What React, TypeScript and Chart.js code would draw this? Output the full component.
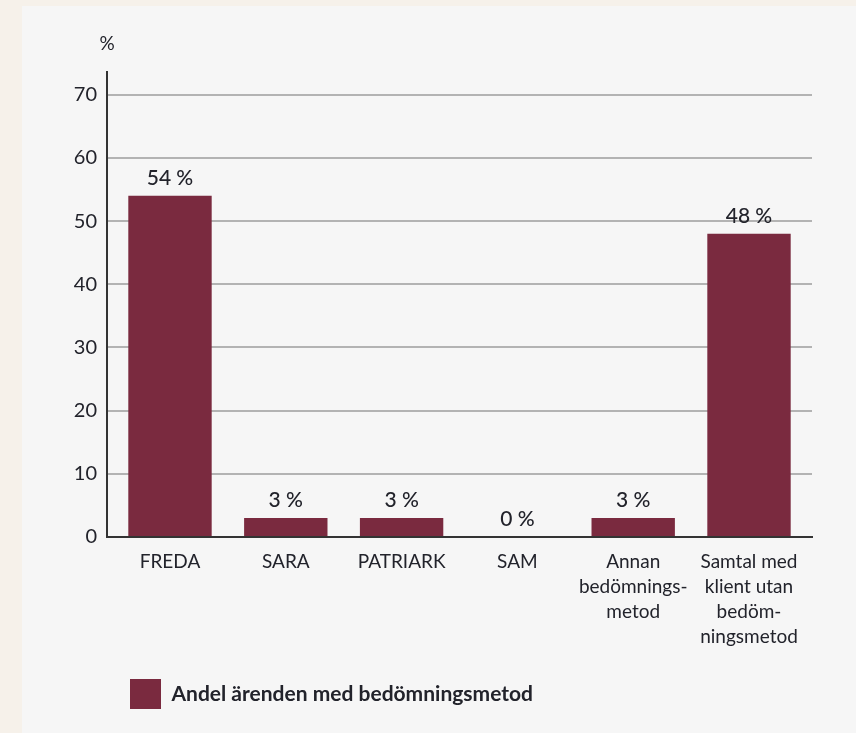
import React, { useEffect, useRef } from "react";
import { Chart, registerables } from "chart.js";
Chart.register(...registerables);

const categories: string[][] = [
  ["FREDA"],
  ["SARA"],
  ["PATRIARK"],
  ["SAM"],
  ["Annan", "bedömnings-", "metod"],
  ["Samtal med", "klient utan", "bedöm-", "ningsmetod"],
];
const values: number[] = [54, 3, 3, 0, 3, 48];
const seriesLabel = "Andel ärenden med bedömningsmetod";
const yTicks: number[] = [0, 10, 20, 30, 40, 50, 60, 70];
const yMax = 73.6;
const unitLabel = "%";

const FONT = "Lato, 'Noto Sans', sans-serif";
const TEXT = "#22232b";
const BAR = "#7a2a3f";

export default function App() {
  const ref = useRef<HTMLCanvasElement | null>(null);

  useEffect(() => {
    document.body.style.margin = "0";
    const canvas = ref.current;
    if (!canvas) return;

    const overlay = {
      id: "overlay",
      afterLayout(chart: any) {
        const lg = chart.legend;
        if (lg) {
          lg.left += 98;
          lg.right += 98;
        }
      },
      afterDatasetsDraw(chart: any) {
        const ctx = chart.ctx;
        const meta = chart.getDatasetMeta(0);
        ctx.save();
        ctx.font = `500 21px ${FONT}`;
        ctx.fillStyle = TEXT;
        ctx.textAlign = "center";
        ctx.textBaseline = "middle";
        meta.data.forEach((bar: any, i: number) => {
          ctx.fillText(`${values[i]} %`, bar.x, bar.y - 18);
        });
        ctx.font = `19px ${FONT}`;
        ctx.fillText(unitLabel, chart.chartArea.left, 38);
        ctx.restore();
      },
    };

    const points = values.map((v, i) => ({ x: i, y: v }));

    const chart = new Chart(canvas, {
      type: "bar",
      data: {
        datasets: [
          {
            label: seriesLabel,
            data: points,
            backgroundColor: BAR,
            borderWidth: 0,
            barPercentage: 0.72,
            categoryPercentage: 1,
          },
        ],
      },
      options: {
        responsive: false,
        animation: false,
        layout: { padding: { top: 66, right: 44, bottom: 14, left: 0 } },
        plugins: {
          tooltip: { enabled: false },
          legend: {
            position: "bottom",
            align: "start",
            labels: {
              boxWidth: 31,
              boxHeight: 30,
              padding: 10,
              color: TEXT,
              font: { family: FONT, size: 21, weight: "bold" },
            },
          },
        },
        scales: {
          x: {
            type: "linear",
            offset: false,
            min: -0.544,
            max: categories.length - 1 + 0.544,
            afterBuildTicks: (s: any) => {
              s.ticks = categories.map((_, i) => ({ value: i }));
            },
            grid: { display: false, drawTicks: false, offset: false },
            border: { color: "#333333", width: 2 },
            ticks: {
              padding: 12,
              color: TEXT,
              maxRotation: 0,
              autoSkip: false,
              callback: (v: any) => categories[Math.round(Number(v))],
              font: { family: FONT, size: 19, lineHeight: "25px" },
            },
            afterFit: (s: any) => {
              s.height = 132;
            },
          },
          y: {
            min: 0,
            max: yMax,
            afterBuildTicks: (s: any) => {
              s.ticks = yTicks.map((v) => ({ value: v }));
            },
            afterFit: (s: any) => {
              s.width = 85;
            },
            grid: { color: "#b3b3b3", lineWidth: 2, drawTicks: false },
            border: { color: "#333333", width: 2 },
            ticks: {
              padding: 10,
              color: TEXT,
              font: { family: FONT, size: 20 },
            },
          },
        },
      },
      plugins: [overlay],
    } as any);

    return () => chart.destroy();
  }, []);

  return (
    <div
      style={{
        position: "fixed",
        left: 0,
        top: 0,
        width: 856,
        height: 733,
        background: "#f6f1ea",
      }}
    >
      <div
        style={{
          position: "absolute",
          left: 22,
          top: 6,
          width: 834,
          height: 727,
          background: "#f6f6f6",
        }}
      >
        <canvas ref={ref} width={834} height={727} style={{ display: "block" }} />
      </div>
    </div>
  );
}
